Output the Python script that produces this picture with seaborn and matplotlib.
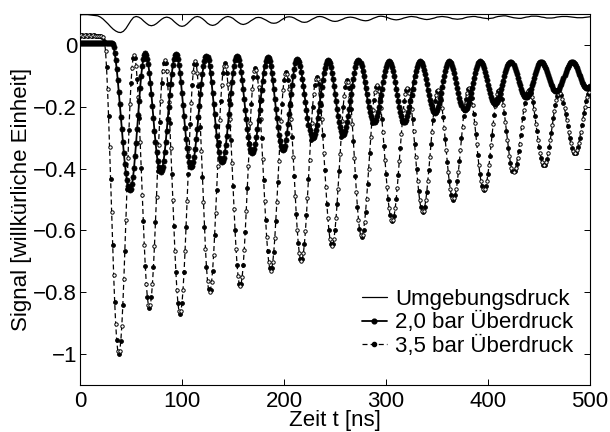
import numpy as np
import matplotlib
matplotlib.use("Agg")
import matplotlib.pyplot as plt
from matplotlib.lines import Line2D
import seaborn as sns
import pandas as pd

# time grids (ns)
t_ns = np.arange(0, 501)          # 1 ns steps for the two pressure curves
t_amb = np.arange(0, 501, 2.5)    # 2.5 ns steps for the ambient curve

# Umgebungsdruck (2.5 ns steps)
sig_amb = [
    0.097, 0.098, 0.098, 0.098, 0.097, 0.096,
    0.095, 0.094, 0.090, 0.084, 0.076, 0.068, 0.059, 0.051, 0.045, 0.041,
    0.040, 0.044, 0.053, 0.066, 0.079, 0.089,
    0.092, 0.090, 0.085, 0.077, 0.070, 0.064,
    0.062, 0.064, 0.069, 0.076, 0.083, 0.088,
    0.090, 0.088, 0.083, 0.075, 0.068, 0.062,
    0.060, 0.062, 0.068, 0.076, 0.084, 0.090,
    0.092, 0.090, 0.085, 0.078, 0.070, 0.065,
    0.063, 0.065, 0.070, 0.078, 0.085, 0.090,
    0.092, 0.090, 0.086, 0.079, 0.073, 0.068,
    0.066, 0.068, 0.072, 0.078, 0.083, 0.088,
    0.089, 0.088, 0.084, 0.080, 0.075, 0.071,
    0.070, 0.071, 0.075, 0.081, 0.086, 0.090,
    0.091, 0.090, 0.087, 0.082, 0.078, 0.074,
    0.073, 0.074, 0.078, 0.083, 0.087, 0.091,
    0.092, 0.091, 0.088, 0.084, 0.080, 0.077,
    0.076, 0.077, 0.080, 0.083, 0.087, 0.089,
    0.090, 0.089, 0.087, 0.084, 0.081, 0.079,
    0.078, 0.079, 0.082, 0.086, 0.089, 0.092,
    0.093, 0.092, 0.090, 0.087, 0.084, 0.082,
    0.081, 0.082, 0.084, 0.087, 0.089, 0.091,
    0.092, 0.091, 0.090, 0.087, 0.085, 0.083,
    0.082, 0.083, 0.085, 0.087, 0.090, 0.091,
    0.092, 0.091, 0.090, 0.088, 0.085, 0.084,
    0.083, 0.084, 0.085, 0.088, 0.090, 0.091,
    0.092, 0.092, 0.090, 0.089, 0.087, 0.086,
    0.085, 0.086, 0.087, 0.090, 0.092, 0.093,
    0.094, 0.094, 0.092, 0.090, 0.088, 0.087,
    0.086, 0.086, 0.088, 0.090, 0.091, 0.093,
    0.093, 0.093, 0.092, 0.090, 0.089, 0.087,
    0.087, 0.087, 0.088, 0.090, 0.091, 0.092,
    0.092, 0.092, 0.091, 0.090, 0.089, 0.088,
    0.088, 0.088, 0.089, 0.090, 0.091,
]

# 2,0 bar Ueberdruck (1 ns steps)
sig_20 = [
    0.006, 0.006, 0.007, 0.007, 0.006, 0.006, 0.006, 0.007, 0.007, 0.006,
    0.006, 0.006, 0.007, 0.007, 0.006, 0.006, 0.006, 0.007, 0.007, 0.006,
    0.006, 0.006, 0.007, 0.007, 0.006, 0.006, 0.006, 0.006, 0.006, 0.006,
    0.006,
    0.006, 0.002, -0.008, -0.026, -0.050, -0.079, -0.113, -0.151, -0.191, -0.232,
    -0.273, -0.313, -0.351, -0.385, -0.414, -0.438, -0.456, -0.466,
    -0.470, -0.465, -0.451, -0.428, -0.397, -0.359, -0.317, -0.272, -0.226, -0.180, -0.138, -0.100, -0.069, -0.046, -0.032,
    -0.027, -0.031, -0.044, -0.063, -0.090, -0.123, -0.159, -0.199, -0.238, -0.278, -0.314, -0.347, -0.374, -0.394, -0.406,
    -0.410, -0.406, -0.394, -0.374, -0.347, -0.315, -0.279, -0.240, -0.200, -0.161, -0.125, -0.093, -0.066, -0.046, -0.034,
    -0.030, -0.034, -0.046, -0.065, -0.090, -0.121, -0.156, -0.194, -0.231, -0.269, -0.304, -0.335, -0.360, -0.379, -0.391,
    -0.395, -0.391, -0.380, -0.361, -0.336, -0.305, -0.271, -0.234, -0.196, -0.159, -0.125, -0.094, -0.069, -0.051, -0.039,
    -0.035, -0.039, -0.050, -0.068, -0.092, -0.121, -0.154, -0.190, -0.225, -0.261, -0.294, -0.323, -0.347, -0.365, -0.376,
    -0.380, -0.376, -0.365, -0.347, -0.323, -0.294, -0.261, -0.225, -0.190, -0.154, -0.121, -0.092, -0.068, -0.050, -0.039,
    -0.035, -0.039, -0.049, -0.065, -0.087, -0.114, -0.144, -0.176, -0.209, -0.241, -0.271, -0.298, -0.320, -0.337, -0.347,
    -0.350, -0.347, -0.337, -0.321, -0.299, -0.273, -0.243, -0.211, -0.179, -0.147, -0.118, -0.091, -0.069, -0.053, -0.043,
    -0.040, -0.043, -0.053, -0.069, -0.090, -0.115, -0.144, -0.174, -0.206, -0.237, -0.265, -0.291, -0.312, -0.327, -0.337,
    -0.340, -0.336, -0.326, -0.308, -0.285, -0.257, -0.225, -0.193, -0.160, -0.129, -0.101, -0.077, -0.060, -0.049,
    -0.045, -0.048, -0.056, -0.069, -0.087, -0.109, -0.133, -0.159, -0.186, -0.212, -0.236, -0.258, -0.276, -0.289, -0.297,
    -0.300, -0.297, -0.289, -0.276, -0.259, -0.238, -0.214, -0.188, -0.162, -0.136, -0.113, -0.091, -0.074, -0.061, -0.053,
    -0.050, -0.053, -0.060, -0.073, -0.090, -0.110, -0.133, -0.158, -0.183, -0.207, -0.230, -0.250, -0.267, -0.280, -0.287,
    -0.290, -0.287, -0.280, -0.267, -0.250, -0.230, -0.207, -0.183, -0.158, -0.133, -0.110, -0.090, -0.073, -0.060, -0.053,
    -0.050, -0.052, -0.059, -0.069, -0.083, -0.100, -0.119, -0.140, -0.160, -0.181, -0.200, -0.217, -0.231, -0.241, -0.248,
    -0.250, -0.248, -0.242, -0.231, -0.217, -0.201, -0.182, -0.161, -0.141, -0.120, -0.102, -0.085, -0.071, -0.061, -0.054,
    -0.052, -0.054, -0.061, -0.071, -0.085, -0.102, -0.120, -0.141, -0.161, -0.182, -0.201, -0.217, -0.231, -0.242, -0.248,
    -0.250, -0.248, -0.242, -0.231, -0.217, -0.201, -0.182, -0.161, -0.141, -0.120, -0.102, -0.085, -0.071, -0.061, -0.054,
    -0.052, -0.054, -0.059, -0.068, -0.080, -0.094, -0.110, -0.127, -0.145, -0.162, -0.178, -0.192, -0.204, -0.213, -0.218,
    -0.220, -0.218, -0.212, -0.202, -0.189, -0.173, -0.155, -0.137, -0.118, -0.100, -0.084, -0.071, -0.061, -0.055,
    -0.053, -0.055, -0.060, -0.068, -0.079, -0.092, -0.107, -0.123, -0.140, -0.156, -0.171, -0.184, -0.195, -0.203, -0.208,
    -0.210, -0.208, -0.203, -0.195, -0.184, -0.171, -0.156, -0.140, -0.123, -0.107, -0.092, -0.079, -0.068, -0.060, -0.055,
    -0.053, -0.055, -0.059, -0.066, -0.076, -0.087, -0.100, -0.114, -0.129, -0.143, -0.156, -0.167, -0.177, -0.184, -0.189,
    -0.190, -0.189, -0.184, -0.177, -0.168, -0.156, -0.143, -0.130, -0.116, -0.102, -0.089, -0.077, -0.068, -0.061, -0.057,
    -0.055, -0.056, -0.060, -0.066, -0.074, -0.084, -0.095, -0.107, -0.119, -0.130, -0.141, -0.151, -0.159, -0.165, -0.169,
    -0.170, -0.169, -0.165, -0.159, -0.151, -0.141, -0.130, -0.119, -0.107, -0.095, -0.084, -0.074, -0.066, -0.060, -0.056,
    -0.055, -0.056, -0.059, -0.064, -0.071, -0.079, -0.088, -0.098, -0.107, -0.117, -0.126, -0.134, -0.141, -0.146, -0.149,
    -0.150, -0.149, -0.146, -0.141, -0.134, -0.126, -0.117, -0.107, -0.098, -0.088, -0.079, -0.071, -0.064, -0.059, -0.056,
    -0.055, -0.056, -0.059, -0.063, -0.069, -0.076, -0.084, -0.093, -0.102, -0.111, -0.119, -0.126, -0.132, -0.136, -0.139,
    -0.140, -0.139, -0.137, -0.134,
]

# 3,5 bar Ueberdruck (1 ns steps)
sig_35 = [
    0.030, 0.031, 0.031, 0.030, 0.030, 0.031, 0.031, 0.030, 0.030, 0.031,
    0.031, 0.030, 0.030, 0.031, 0.031, 0.030, 0.030, 0.030, 0.030, 0.030,
    0.030, 0.029, 0.027,
    0.025, 0.014, -0.019, -0.072, -0.144, -0.231, -0.329, -0.434, -0.541, -0.646, -0.744, -0.831, -0.903, -0.956, -0.989,
    -1.000, -0.989, -0.958, -0.908, -0.840, -0.758, -0.666, -0.566, -0.466, -0.366, -0.274, -0.192, -0.124, -0.074, -0.043,
    -0.032, -0.041, -0.067, -0.110, -0.167, -0.237, -0.314, -0.399, -0.484, -0.568, -0.646, -0.715, -0.772, -0.815, -0.841,
    -0.850, -0.841, -0.816, -0.774, -0.718, -0.650, -0.573, -0.491, -0.407, -0.325, -0.249, -0.180, -0.124, -0.083, -0.057,
    -0.048, -0.057, -0.083, -0.126, -0.184, -0.254, -0.332, -0.416, -0.502, -0.586, -0.665, -0.734, -0.792, -0.835, -0.861,
    -0.870, -0.861, -0.835, -0.792, -0.735, -0.666, -0.588, -0.504, -0.419, -0.335, -0.257, -0.188, -0.131, -0.088, -0.062,
    -0.053, -0.062, -0.090, -0.134, -0.193, -0.264, -0.344, -0.427, -0.509, -0.589, -0.660, -0.719, -0.763, -0.791,
    -0.800, -0.792, -0.768, -0.730, -0.678, -0.615, -0.544, -0.468, -0.391, -0.315, -0.244, -0.181, -0.129, -0.091, -0.067,
    -0.059, -0.067, -0.090, -0.128, -0.178, -0.239, -0.308, -0.382, -0.457, -0.531, -0.600, -0.661, -0.712, -0.749, -0.772,
    -0.780, -0.772, -0.750, -0.713, -0.664, -0.604, -0.537, -0.464, -0.391, -0.318, -0.251, -0.191, -0.142, -0.105, -0.083,
    -0.075, -0.082, -0.103, -0.137, -0.183, -0.239, -0.301, -0.368, -0.437, -0.504, -0.566, -0.622, -0.668, -0.702, -0.723,
    -0.730, -0.723, -0.702, -0.669, -0.624, -0.569, -0.508, -0.442, -0.375, -0.308, -0.247, -0.192, -0.147, -0.114, -0.093,
    -0.086, -0.093, -0.112, -0.144, -0.187, -0.240, -0.298, -0.361, -0.425, -0.488, -0.547, -0.599, -0.642, -0.674, -0.693,
    -0.700, -0.693, -0.674, -0.643, -0.602, -0.551, -0.494, -0.433, -0.371, -0.309, -0.252, -0.202, -0.160, -0.129, -0.110,
    -0.103, -0.109, -0.127, -0.155, -0.193, -0.240, -0.292, -0.348, -0.405, -0.461, -0.513, -0.560, -0.598, -0.627, -0.644,
    -0.650, -0.644, -0.627, -0.599, -0.561, -0.516, -0.465, -0.409, -0.354, -0.298, -0.247, -0.202, -0.164, -0.136, -0.119,
    -0.113, -0.119, -0.138, -0.168, -0.208, -0.257, -0.310, -0.367, -0.423, -0.477, -0.525, -0.565, -0.595, -0.614,
    -0.620, -0.615, -0.599, -0.573, -0.539, -0.498, -0.451, -0.401, -0.350, -0.299, -0.253, -0.211, -0.177, -0.151, -0.135,
    -0.130, -0.135, -0.149, -0.172, -0.203, -0.240, -0.282, -0.327, -0.373, -0.418, -0.460, -0.497, -0.528, -0.551, -0.565,
    -0.570, -0.565, -0.552, -0.529, -0.499, -0.463, -0.422, -0.377, -0.333, -0.288, -0.248, -0.211, -0.181, -0.159, -0.145,
    -0.140, -0.144, -0.157, -0.178, -0.206, -0.240, -0.278, -0.319, -0.361, -0.402, -0.440, -0.474, -0.502, -0.523, -0.536,
    -0.540, -0.536, -0.523, -0.503, -0.475, -0.441, -0.404, -0.363, -0.322, -0.281, -0.244, -0.210, -0.183, -0.162, -0.149,
    -0.145, -0.149, -0.160, -0.179, -0.204, -0.234, -0.268, -0.304, -0.341, -0.378, -0.411, -0.441, -0.466, -0.485, -0.496,
    -0.500, -0.496, -0.485, -0.466, -0.441, -0.410, -0.376, -0.339, -0.301, -0.264, -0.230, -0.199, -0.174, -0.156, -0.144,
    -0.140, -0.144, -0.154, -0.171, -0.195, -0.223, -0.254, -0.288, -0.322, -0.356, -0.388, -0.416, -0.439, -0.456, -0.466,
    -0.470, -0.466, -0.456, -0.439, -0.416, -0.389, -0.358, -0.324, -0.291, -0.257, -0.226, -0.199, -0.176, -0.159, -0.149,
    -0.145, -0.148, -0.158, -0.174, -0.195, -0.220, -0.248, -0.278, -0.307, -0.335, -0.360, -0.381, -0.397, -0.407,
    -0.410, -0.407, -0.399, -0.385, -0.366, -0.344, -0.319, -0.291, -0.264, -0.236, -0.211, -0.189, -0.170, -0.156, -0.148,
    -0.145, -0.148, -0.156, -0.168, -0.185, -0.206, -0.230, -0.255, -0.280, -0.306, -0.329, -0.350, -0.367, -0.380, -0.387,
    -0.390, -0.387, -0.380, -0.368, -0.351, -0.331, -0.309, -0.285, -0.260, -0.236, -0.214, -0.194, -0.177, -0.165, -0.158,
    -0.155, -0.157, -0.163, -0.174, -0.187, -0.204, -0.222, -0.242, -0.263, -0.283, -0.301, -0.318, -0.332, -0.342, -0.348,
    -0.350, -0.348, -0.341, -0.331, -0.317, -0.300, -0.281, -0.260, -0.240, -0.219, -0.200, -0.183, -0.169, -0.159, -0.152, -0.150,
]

series_labels = ["Umgebungsdruck", "2,0 bar Überdruck", "3,5 bar Überdruck"]
xtick_vals = [0, 100, 200, 300, 400, 500]
ytick_vals = [-1, -0.8, -0.6, -0.4, -0.2, 0]
ytick_labels = ["\u22121", "\u22120.8", "\u22120.6", "\u22120.4", "\u22120.2", "0"]

df = pd.DataFrame({"t": t_ns, "p20": sig_20, "p35": sig_35})
df_amb = pd.DataFrame({"t": t_amb, "amb": sig_amb})

sns.set_style("ticks")
plt.rcParams["font.family"] = ["Liberation Sans", "DejaVu Sans"]
plt.rcParams.update({
    "text.color": "k",
    "axes.labelcolor": "k",
    "xtick.color": "k",
    "ytick.color": "k",
    "axes.edgecolor": "k",
})

fig = plt.figure(figsize=(6.1, 4.32), dpi=100)
ax = fig.add_axes([80 / 610, 1 - 385 / 432, 510 / 610, 371 / 432])

dash = (0, (4, 2.5))

# ambient pressure
sns.lineplot(data=df_amb, x="t", y="amb", color="k", linewidth=0.9,
             errorbar=None, ax=ax)

# 3,5 bar: dashed line, filled and open dots alternating
sns.lineplot(data=df, x="t", y="p35", color="k", linewidth=0.9, linestyle=dash,
             marker="o", markersize=2.8, markevery=(0, 2),
             markerfacecolor="k", markeredgecolor="k", markeredgewidth=0.6,
             errorbar=None, ax=ax)
odd = df.iloc[1::2]
sns.scatterplot(x=odd["t"], y=odd["p35"], marker="o", s=6, facecolor="white",
                edgecolor="k", linewidth=0.7, zorder=3, ax=ax)

# 2,0 bar: solid line with dense filled dots
sns.lineplot(data=df, x="t", y="p20", color="k", linewidth=1.3,
             marker="o", markersize=3.7, markerfacecolor="k",
             markeredgecolor="k", markeredgewidth=0.5,
             errorbar=None, ax=ax, zorder=4)

ax.set_xlim(0, 500)
ax.set_ylim(-1.1, 0.1)
ax.set_xticks(xtick_vals)
ax.set_xticklabels([str(v) for v in xtick_vals])
ax.set_yticks(ytick_vals)
ax.set_yticklabels(ytick_labels)
ax.tick_params(direction="in", top=True, right=True, length=4, width=0.7,
               labelsize=16, colors="k")
ax.tick_params(axis="x", pad=4)
ax.tick_params(axis="y", pad=2)
for sp in ax.spines.values():
    sp.set_visible(True)
    sp.set_color("k")
    sp.set_linewidth(0.8)

ax.set_xlabel("Zeit t [ns]", fontsize=16, labelpad=-1, color="k")
ax.set_ylabel("Signal [willkürliche Einheit]", fontsize=16, labelpad=1, color="k")

handles = [
    Line2D([], [], color="k", linewidth=0.9),
    Line2D([], [], color="k", linewidth=1.3, marker="o", markersize=3.4),
    Line2D([], [], color="k", linewidth=0.9, linestyle=dash, marker="o", markersize=3),
]
leg = ax.legend(handles, series_labels, loc="lower right", bbox_to_anchor=(0.967, 0.075),
                frameon=False, fontsize=16, handlelength=1.15, handletextpad=0.35,
                labelspacing=0.12, borderpad=0, borderaxespad=0, numpoints=1)
for txt in leg.get_texts():
    txt.set_color("k")

fig.savefig("out.png", dpi=100)
